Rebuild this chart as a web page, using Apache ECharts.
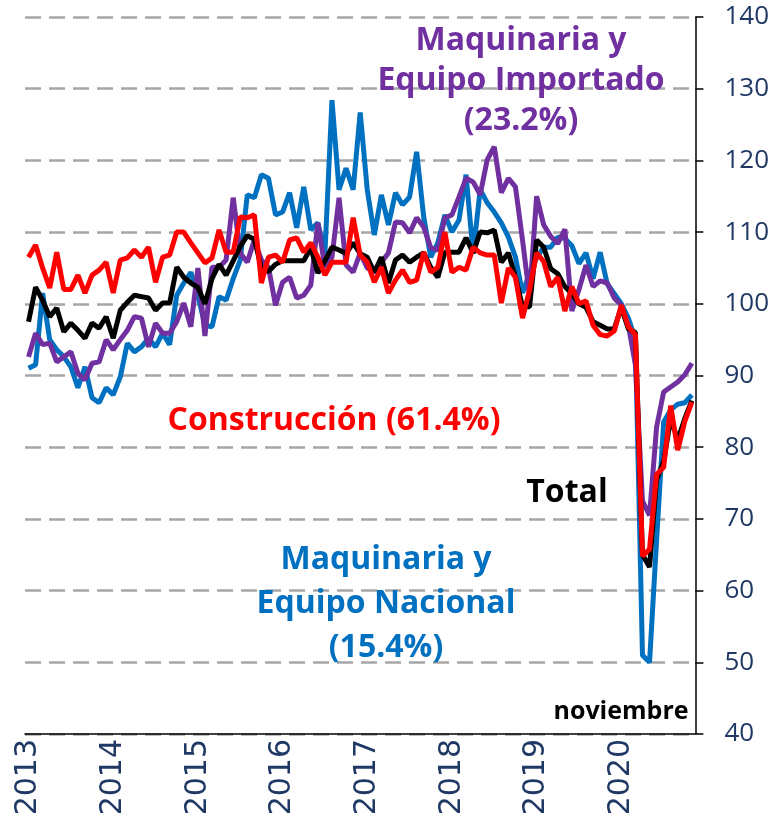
<!DOCTYPE html>
<html lang="es">
<head>
<meta charset="utf-8">
<title>Inversión fija bruta</title>
<script src="https://cdn.jsdelivr.net/npm/echarts@6/dist/echarts.min.js"></script>
<style>
  html, body { margin: 0; padding: 0; background: #fff; }
  #main { width: 772px; height: 825px; }
</style>
</head>
<body>
<div id="main"></div>
<script>
// meses de ene-2013 a nov-2020
var years = [2013, 2014, 2015, 2016, 2017, 2018, 2019, 2020];
var lastMonth = 11;

var total = [
  97.5, 102.3, 100.5, 98.2, 99.4, 96.1, 97.3, 96.3, 95.2, 97.3, 96.6, 98.2,
  95.2, 99.1, 100.2, 101.2, 101, 100.8, 99.1, 100.1, 100.1, 105.1, 103.7, 102.9,
  102.3, 100, 103.5, 105.5, 104, 106, 108, 109.5, 109, 105, 104.5, 105.5,
  106, 106, 106, 106, 107.8, 104.3, 106, 107.9, 107.5, 107, 108.5, 107,
  106.5, 104.4, 106.5, 102.9, 106.1, 106.8, 105.8, 106.5, 107.1, 105.1, 103.7, 107.2,
  107.2, 107.2, 109.2, 107.1, 110, 109.9, 110.3, 105.8, 107.1, 103.7, 99.6, 99.6,
  108.9, 107.9, 104.9, 104.2, 102.4, 101.4, 100, 99.5, 97.5, 97, 96.5, 96.5,
  99.5, 96.5, 96, 65, 63.3, 75.5, 78, 84, 81, 84, 86.5
];

var construccion = [
  106.5, 108.2, 105, 102.2, 107.2, 102, 102, 104, 101.5, 104, 104.7, 105.8,
  101.5, 106.1, 106.4, 107.5, 106.5, 107.9, 103, 106.5, 106.8, 110, 110, 108.5,
  107.1, 105.7, 106.4, 110.3, 107.2, 107.2, 112.1, 112, 112.4, 102.9, 106.5, 106.8,
  105.8, 108.9, 109.2, 107.2, 108.5, 106.5, 104, 105.8, 105.8, 105.8, 112, 106.8,
  105.8, 103, 105.1, 101.5, 103.3, 104.7, 103, 103.3, 107.2, 104.4, 105.1, 110,
  104.4, 105.1, 104.7, 107.9, 107.1, 106.8, 106.8, 100.1, 105, 103.7, 98, 101.9,
  107.1, 105.9, 102.4, 103.7, 99, 102.4, 100, 100.4, 97, 95.7, 95.5, 96.2,
  99.8, 96.8, 95.7, 64.8, 65.8, 76.2, 77.2, 85.8, 79.6, 83.6, 86.3
];

var importado = [
  92.6, 95.9, 94.3, 94.5, 91.9, 92.6, 93.3, 90.3, 89.4, 91.7, 91.9, 95,
  93.6, 95, 96.3, 98.2, 98, 94, 97.3, 95.9, 95.9, 97.5, 100.1, 96.8,
  105, 95.5, 105.1, 105.1, 106.1, 114.8, 107.1, 105.8, 108.9, 106.1, 105.1, 99.8,
  103, 103.7, 100.8, 101.2, 102.6, 111.3, 105.1, 106.5, 114.8, 105.4, 104.4, 107.1,
  105, 104.4, 105.8, 107.1, 111.4, 111.3, 109.9, 112, 110.7, 107.8, 107.5, 112,
  112.4, 114.9, 117.5, 117, 115.2, 120.1, 121.9, 115.5, 117.5, 116.3, 108.9, 101,
  115, 111, 109.4, 108.4, 110.4, 99, 102, 105.4, 102.4, 103.2, 102.9, 100.8,
  99.8, 97, 91.5, 72.5, 70.5, 82.8, 87.7, 88.4, 89.1, 90.1, 91.7
];

var nacional = [
  91, 91.5, 101.5, 95, 93.6, 92.6, 91.2, 88.3, 91.2, 86.9, 86.2, 88.3,
  87.3, 89.8, 94.5, 93.3, 94, 95.2, 94, 95.9, 94.3, 101.2, 102.9, 104.4,
  101.2, 97, 96.8, 101, 100.5, 103.5, 106.1, 115.2, 114.8, 118, 117.5, 112.4,
  112.8, 115.5, 110.6, 116.3, 110.3, 111.3, 107, 128.4, 115.9, 118.9, 115.9, 126.7,
  115.9, 109.6, 115.2, 111, 115.5, 113.8, 114.9, 121.2, 112.1, 106.5, 108.5, 112.4,
  110, 111.7, 118, 107, 115.9, 114.1, 112.8, 111.3, 109.3, 106.5, 101.5, 104.3,
  106.4, 107.9, 107.9, 109.3, 109.1, 108.1, 105.6, 107.1, 103.5, 107.2, 102.8, 101.4,
  100, 98, 95, 51, 50, 67, 83.5, 85.2, 86, 86.2, 87.3
];

var months = [];
years.forEach(function (y) {
  for (var m = 1; m <= 12; m++) {
    if (y === years[years.length - 1] && m > lastMonth) break;
    months.push(y + '-' + (m < 10 ? '0' + m : m));
  }
});

var isJan = function (idx) { return idx % 12 === 0; };
var axisColor = '#1f3864';

var chart = echarts.init(document.getElementById('main'));

function line(name, data, color) {
  return {
    name: name,
    type: 'line',
    data: data,
    symbol: 'none',
    smooth: false,
    lineStyle: { color: color, width: 5 },
    itemStyle: { color: color },
    animation: false
  };
}

var bigFont = 'bold 32px "Open Sans"';

chart.setOption({
  animation: false,
  grid: { left: 25, right: 76, top: 17, bottom: 91, containLabel: false },
  xAxis: {
    type: 'category',
    data: months,
    boundaryGap: true,
    axisLine: { lineStyle: { color: '#000', width: 1.5 } },
    axisTick: { interval: isJan, length: 10, lineStyle: { color: '#000', width: 1.5 } },
    axisLabel: {
      interval: isJan,
      rotate: 90,
      margin: 5,
      color: axisColor,
      fontFamily: 'DejaVu Sans',
      fontSize: 30,
      formatter: function (v) { return v.slice(0, 4); }
    },
    splitLine: { show: false }
  },
  yAxis: {
    type: 'value',
    position: 'right',
    min: 40,
    max: 140,
    interval: 10,
    axisLine: { show: true, lineStyle: { color: '#000', width: 1.5 } },
    axisTick: { show: true, inside: false, length: 8, lineStyle: { color: '#000', width: 1.5 } },
    axisLabel: { margin: 29, color: axisColor, fontFamily: 'Open Sans', fontSize: 26 },
    splitLine: { show: true, lineStyle: { color: '#a6a6a6', width: 2.5, type: [16, 8] } }
  },
  series: [
    line('Maquinaria y Equipo Nacional', nacional, '#0070c0'),
    line('Maquinaria y Equipo Importado', importado, '#7030a0'),
    line('Total', total, '#000000'),
    line('Construcción', construccion, '#ff0000')
  ],
  graphic: [
    {
      type: 'text', x: 521, y: 81, z: 100,
      style: { text: 'Maquinaria y\nEquipo Importado\n(23.2%)', font: bigFont, fill: '#7030a0',
               align: 'center', verticalAlign: 'middle', lineHeight: 40 }
    },
    {
      type: 'text', x: 334, y: 421, z: 100,
      style: { text: 'Construcción (61.4%)', font: bigFont, fill: '#ff0000',
               align: 'center', verticalAlign: 'middle' }
    },
    {
      type: 'text', x: 567, y: 493, z: 100,
      style: { text: 'Total', font: bigFont, fill: '#000000',
               align: 'center', verticalAlign: 'middle' }
    },
    {
      type: 'text', x: 386, y: 604, z: 100,
      style: { text: 'Maquinaria y\nEquipo Nacional\n(15.4%)', font: bigFont, fill: '#0070c0',
               align: 'center', verticalAlign: 'middle', lineHeight: 44 }
    },
    {
      type: 'text', x: 621, y: 712, z: 100,
      style: { text: 'noviembre', font: 'bold 25px "Open Sans"', fill: '#000000',
               align: 'center', verticalAlign: 'middle' }
    }
  ]
});
</script>
</body>
</html>
